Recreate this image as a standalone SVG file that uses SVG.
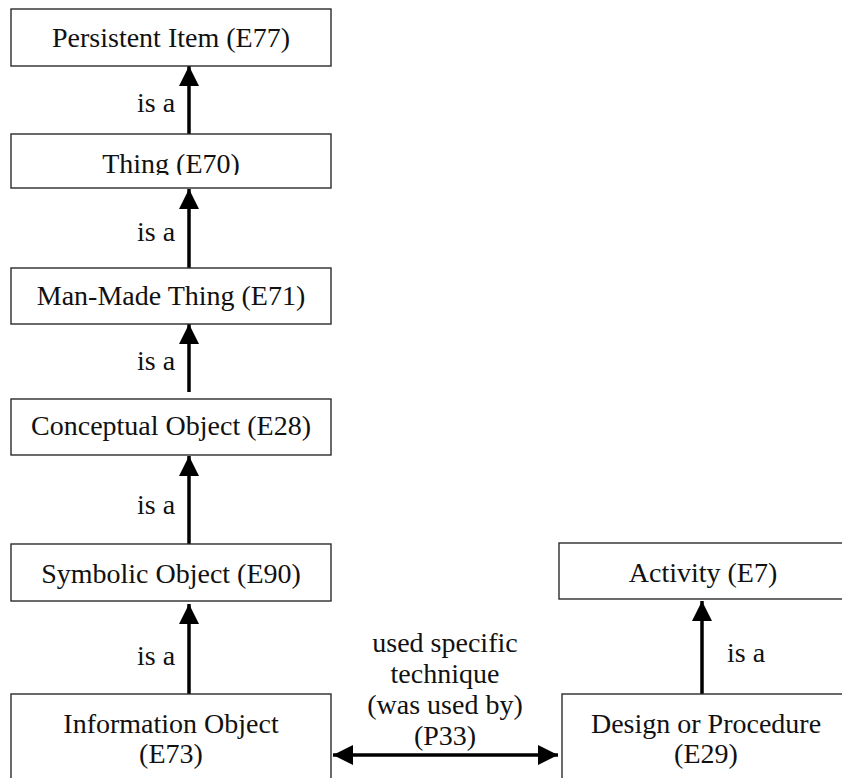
<svg xmlns="http://www.w3.org/2000/svg" width="842" height="778" viewBox="0 0 842 778">
<style>
.box{fill:#fff;stroke:#2b2b2b;stroke-width:1.4}
.t{font-family:"Liberation Serif","Times New Roman",serif;font-size:28px;fill:#111;text-anchor:middle}
.l{font-family:"Liberation Serif","Times New Roman",serif;font-size:28px;fill:#111}
.c{stroke:#000;stroke-width:3.5;fill:none}
</style>
<defs>
<marker id="ah" markerUnits="userSpaceOnUse" markerWidth="20" markerHeight="20" refX="20" refY="10" orient="auto-start-reverse" viewBox="0 0 20 20">
<path d="M0,0 L20,10 L0,20 Z" fill="#000"/>
</marker>
<clipPath id="clipThing"><rect x="11" y="134" width="320" height="41"/></clipPath>
</defs>
<rect width="842" height="778" fill="#fff"/>
<g id="connectors">
<line class="c" x1="189" y1="134" x2="189" y2="66" marker-end="url(#ah)"/>
<line class="c" x1="189" y1="268" x2="189" y2="189" marker-end="url(#ah)"/>
<line class="c" x1="189" y1="392" x2="189" y2="324" marker-end="url(#ah)"/>
<line class="c" x1="189" y1="544" x2="189" y2="456" marker-end="url(#ah)"/>
<line class="c" x1="189" y1="694" x2="189" y2="604" marker-end="url(#ah)"/>
<line class="c" x1="702" y1="694" x2="702" y2="601" marker-end="url(#ah)"/>
<line class="c" x1="333" y1="755" x2="558" y2="755" marker-start="url(#ah)" marker-end="url(#ah)"/>
<text class="l" x="137" y="112">is a</text>
<text class="l" x="137" y="241">is a</text>
<text class="l" x="137" y="370">is a</text>
<text class="l" x="137" y="514">is a</text>
<text class="l" x="137" y="665">is a</text>
<text class="l" x="727" y="662">is a</text>
<text class="t" x="445" y="652">used specific</text>
<text class="t" x="445" y="683">technique</text>
<text class="t" x="445" y="714">(was used by)</text>
<text class="t" x="445" y="745">(P33)</text>
</g>
<g id="e77"><rect class="box" x="11" y="9" width="320" height="57"/><text class="t" x="171" y="47">Persistent Item (E77)</text></g>
<g id="e70"><rect class="box" x="11" y="134" width="320" height="54"/><text class="t" x="171" y="173" clip-path="url(#clipThing)">Thing (E70)</text></g>
<g id="e71"><rect class="box" x="11" y="268" width="320" height="56"/><text class="t" x="171" y="305">Man-Made Thing (E71)</text></g>
<g id="e28"><rect class="box" x="11" y="399" width="320" height="56"/><text class="t" x="171" y="435">Conceptual Object (E28)</text></g>
<g id="e90"><rect class="box" x="11" y="544" width="320" height="57"/><text class="t" x="171" y="583">Symbolic Object (E90)</text></g>
<g id="e73"><rect class="box" x="11" y="694" width="320" height="100"/><text class="t" x="171" y="733">Information Object</text><text class="t" x="171" y="763">(E73)</text></g>
<g id="e7"><rect class="box" x="559" y="543" width="300" height="56"/><text class="t" x="703" y="582">Activity (E7)</text></g>
<g id="e29"><rect class="box" x="562" y="694" width="300" height="100"/><text class="t" x="706" y="733">Design or Procedure</text><text class="t" x="706" y="763">(E29)</text></g>
</svg>
